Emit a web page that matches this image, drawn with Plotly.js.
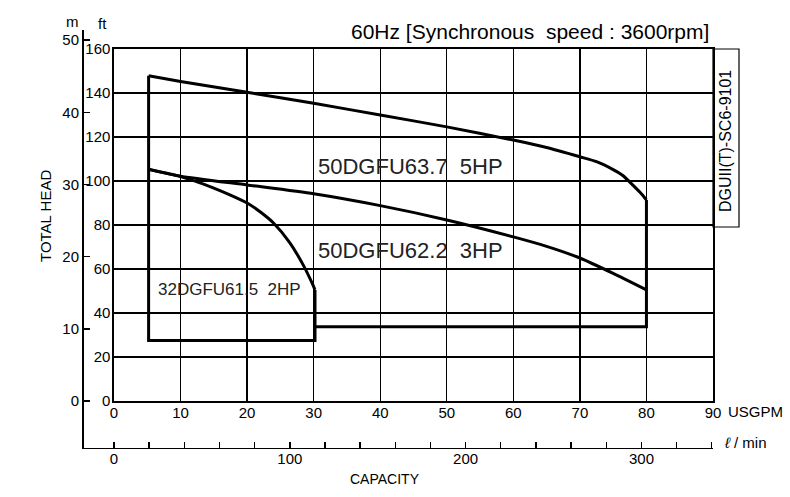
<!DOCTYPE html>
<html>
<head>
<meta charset="utf-8">
<script src="https://cdn.plot.ly/plotly-3.0.1.min.js"></script>
<style>
  html, body { margin: 0; padding: 0; background: #fff; }
  #chart { width: 790px; height: 497px; }
</style>
</head>
<body>
<div id="chart"></div>
<script>
// === Pump performance data (capacity in USGPM, total head in ft) ===
const flow5hp = [5.2, 10, 20, 30, 40, 50, 60, 65, 70, 72.5, 75, 76.5, 78, 79.3, 80];
const head5hp = [147.8, 145.2, 140.3, 135.3, 130, 124.6, 118.6, 115.2, 111, 108.8, 105.2, 102.4, 98, 94, 91.4];

const flow3hp = [5.2, 10, 20, 30, 40, 50, 60, 65, 70, 75, 80];
const head3hp = [105.3, 102.2, 98.2, 94.2, 88.8, 82.3, 74.6, 70.3, 65, 58, 50.5];

const flow2hp = [5.2, 10, 12.5, 15, 17.5, 20, 22, 24, 26.4, 28.4, 29.7, 30.2];
const head2hp = [105.3, 102, 99.6, 96.8, 93.6, 90, 85.9, 80.8, 72, 62, 54, 50.5];

// operating range limits (straight edges)
const flowLimitLow = [5.2, 5.2, 30.2, 30.2];
const headLimitLow = [147.8, 27.5, 27.5, 50.5];
const flowLimitHigh = [80, 80, 30.2];
const headLimitHigh = [91.4, 33.8, 33.8];

// axis ticks
const usgpmTicks = [0, 10, 20, 30, 40, 50, 60, 70, 80, 90];
const ftTicks = [0, 20, 40, 60, 80, 100, 120, 140, 160];
const mTicks = [0, 10, 20, 30, 40, 50];
const lminTicks = [0, 20, 40, 60, 80, 100, 120, 140, 160, 180, 200, 220, 240, 260, 280, 300, 320, 340];
const lminLabels = lminTicks.map(v => (v % 100 === 0 ? String(v) : ''));

const labels = [
    { text: '50DGFU63.7\u00a0\u00a05HP', x: 30.3, y: 106.4, size: 22 },
    { text: '50DGFU62.2\u00a0\u00a03HP', x: 30.3, y: 68.6, size: 22 },
    { text: '32DGFU61.5\u00a0\u00a02HP', x: 6.3, y: 50.5, size: 17 }
];

// pixel -> paper helpers (plot area: x 60..713, y 25..470)
const L = 60, R = 713, T = 25, B = 470;
const px = x => (x - L) / (R - L);
const py = y => (B - y) / (B - T);

const FONT = 'Liberation Sans, Arial, Helvetica, sans-serif';
const thick = { color: '#000', width: 3 };
const curve = Object.assign({ shape: 'spline', smoothing: 0.6 }, thick);

const traces = [
    { x: flow5hp, y: head5hp, mode: 'lines', line: curve, hoverinfo: 'skip' },
    { x: flow3hp, y: head3hp, mode: 'lines', line: curve, hoverinfo: 'skip' },
    { x: flow2hp, y: head2hp, mode: 'lines', line: curve, hoverinfo: 'skip' },
    { x: flowLimitLow, y: headLimitLow, mode: 'lines', line: thick, hoverinfo: 'skip' },
    { x: flowLimitHigh, y: headLimitHigh, mode: 'lines', line: thick, hoverinfo: 'skip' },
    // empty trace so the metre and l/min scales get drawn
    { x: [], y: [], xaxis: 'x2', yaxis: 'y2', mode: 'lines', hoverinfo: 'skip' }
];

function note(text, x, y, size, extra) {
    return Object.assign({
        text: text, xref: 'paper', yref: 'paper', x: px(x), y: py(y),
        xanchor: 'center', yanchor: 'middle', showarrow: false, font: { size: size }
    }, extra || {});
}

const annotations = labels.map(l => ({
    text: l.text, x: l.x, y: l.y, xref: 'x', yref: 'y',
    xanchor: 'left', yanchor: 'middle', showarrow: false,
    font: { size: l.size, color: '#222' }
}));

annotations.push(
    note('60Hz [Synchronous\u00a0\u00a0speed\u00a0:\u00a03600rpm]', 711, 32, 21, { xanchor: 'right' }),
    note('DGUII(T)-SC6-9101', 726, 141, 16, { textangle: -90 }),
    note('TOTAL HEAD', 45, 216, 15, { textangle: -90 }),
    note('m', 72, 22, 15),
    note('ft', 102, 24, 15),
    note('USGPM', 726, 411, 15, { xanchor: 'left' }),
    note('<i>ℓ</i> / min', 722, 442, 15, { xanchor: 'left' }),
    note('CAPACITY', 385, 479, 14)
);

const layout = {
    width: 790,
    height: 497,
    margin: { l: L, r: 790 - R, t: T, b: 497 - B },
    paper_bgcolor: '#fff',
    plot_bgcolor: 'rgba(0,0,0,0)',
    showlegend: false,
    font: { family: FONT, color: '#000', size: 15 },
    xaxis: {
        domain: [px(114), 1],
        range: [0, 90],
        tickvals: usgpmTicks,
        ticks: '',
        ticklabelstandoff: -3,
        showgrid: true, gridcolor: '#000', gridwidth: 1.4,
        showline: true, linecolor: '#000', linewidth: 1.6, mirror: true,
        zeroline: false,
        tickfont: { size: 15 },
        anchor: 'y'
    },
    yaxis: {
        domain: [py(401), py(49)],
        range: [0, 160],
        tickvals: ftTicks,
        ticks: '',
        ticklabelstandoff: -1,
        showgrid: true, gridcolor: '#000', gridwidth: 1.4,
        showline: true, linecolor: '#000', linewidth: 1.6, mirror: true,
        zeroline: false,
        tickfont: { size: 15 },
        anchor: 'x'
    },
    // head in metres, left-hand scale
    yaxis2: {
        domain: [py(447.7), py(30)],
        range: [-6.47, 51.4],
        tickvals: mTicks,
        ticks: 'inside', ticklen: 6, tickwidth: 1.4, tickcolor: '#000',
        showgrid: false, zeroline: false,
        showline: true, linecolor: '#000', linewidth: 1.6,
        anchor: 'free', position: px(82),
        tickfont: { size: 15 }
    },
    // capacity in l/min, bottom scale
    xaxis2: {
        domain: [px(82), 1],
        range: [-18.2, 340.69],
        tickvals: lminTicks,
        ticktext: lminLabels,
        ticks: 'inside', ticklen: 6, tickwidth: 1.4, tickcolor: '#000',
        ticklabelstandoff: -3,
        showgrid: false, zeroline: false,
        showline: true, linecolor: '#000', linewidth: 1.6,
        anchor: 'free', position: py(447.7),
        tickfont: { size: 15 }
    },
    shapes: [
        { type: 'rect', xref: 'paper', yref: 'paper', x0: 1, x1: px(739), y0: py(227), y1: py(49),
          line: { color: '#000', width: 1.2 } }
    ],
    annotations: annotations
};

Plotly.newPlot('chart', traces, layout, { staticPlot: true });
</script>
</body>
</html>
